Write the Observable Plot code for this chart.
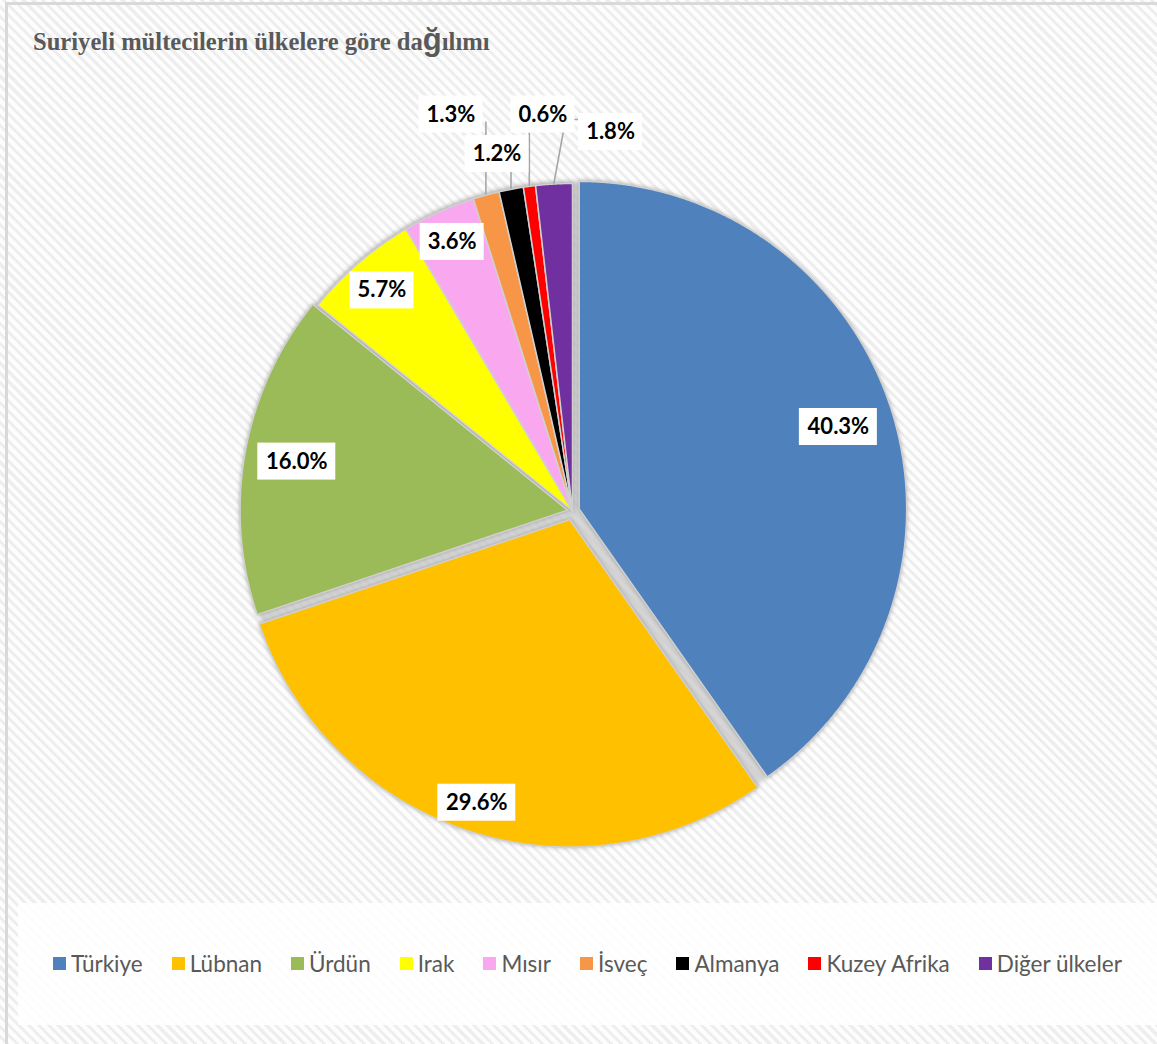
<!DOCTYPE html>
<html><head><meta charset="utf-8">
<script src="https://cdn.jsdelivr.net/npm/d3@7"></script>
<script src="https://cdn.jsdelivr.net/npm/@observablehq/plot@0.6"></script>
<style>
html,body{margin:0;padding:0;background:#fff;}
#chart{position:relative;width:1157px;height:1044px;overflow:hidden;
  background:repeating-linear-gradient(45deg,#fdfdfd 0px,#fdfdfd 4px,#eeeeee 4px,#eeeeee 7px);}
#frame{position:absolute;left:5px;top:2px;width:1200px;height:1100px;border-left:3px solid #d9d9d9;border-top:3px solid #d9d9d9;}
#title{position:absolute;left:33px;top:22px;font-family:"Liberation Serif",serif;font-weight:bold;font-size:24.6px;color:#595959;white-space:nowrap;}
#title .g{font-family:"Liberation Sans",sans-serif;font-size:31px;}
#legendbox{position:absolute;left:18px;top:903px;width:1139px;height:122px;background:rgba(255,255,255,0.85);}
#plot{position:absolute;left:0;top:0;}
#legend{position:absolute;left:53px;top:949px;height:28px;display:flex;align-items:center;font-family:Lato,sans-serif;font-size:22.5px;color:#595959;white-space:nowrap;}
#legend .item{display:flex;align-items:center;margin-right:29px;}
#legend .sw{width:13px;height:13px;margin-right:5px;display:inline-block;}
</style>
</head><body>
<div id="chart">
  <div id="frame"></div>
  <div id="title">Suriyeli mültecilerin ülkelere göre da<span class="g">ğ</span>ılımı</div>
  <div id="legendbox"></div>
  <div id="plot"></div>
  <div id="legend"></div>
</div>
<script>
// ---- data ----
const countries = ["Türkiye","Lübnan","Ürdün","Irak","Mısır","İsveç","Almanya","Kuzey Afrika","Diğer ülkeler"];
const shares = [40.3,29.6,16.0,5.7,3.6,1.3,1.2,0.6,1.8];
const sliceColors = ["#4F81BD","#FFC000","#9BBB59","#FFFF00","#F9A8F0","#F79646","#000000","#FF0000","#7030A0"];
const labelTexts = shares.map(v => v.toFixed(1) + "%");

// ---- layout / style config ----
const W = 1157, H = 1044;
const geom = {cx: 572, cy: 510.5, r: 327.5};
const explode = {"Türkiye": 7, "Lübnan": 9, "Ürdün": 5};
const insideLabel = {"Türkiye": 0.83, "Lübnan": 0.91, "Ürdün": 0.84, "Irak": 0.89, "Mısır": 0.90};
const outsideLabel = {"İsveç": [342.96, 1.266], "Almanya": [348.06, 1.114], "Kuzey Afrika": [355.74, 1.214], "Diğer ülkeler": [5.73, 1.163]};

const arcs = d3.pie().sort(null).value(d => d)(shares);
const slicePts = [];
const labels = [];
const leaders = [];
arcs.forEach((a, i) => {
  const name = countries[i];
  const mid = (a.startAngle + a.endAngle) / 2;
  const d = explode[name] || 0;
  const ox = geom.cx + d * Math.sin(mid), oy = geom.cy - d * Math.cos(mid);
  slicePts.push({name, x: ox, y: oy});
  const n = Math.max(2, Math.ceil((a.endAngle - a.startAngle) / 0.004));
  for (let k = 0; k <= n; k++) {
    const t = a.startAngle + (a.endAngle - a.startAngle) * k / n;
    slicePts.push({name, x: ox + geom.r * Math.sin(t), y: oy - geom.r * Math.cos(t)});
  }
  const text = labelTexts[i];
  const w = 14 * text.length + 8, h = 37;
  let lx, ly;
  if (insideLabel[name] != null) {
    const rr = geom.r * insideLabel[name];
    lx = ox + rr * Math.sin(mid); ly = oy - rr * Math.cos(mid);
  } else {
    const [ang, f] = outsideLabel[name];
    const t = ang * Math.PI / 180;
    lx = geom.cx + geom.r * f * Math.sin(t); ly = geom.cy - geom.r * f * Math.cos(t);
    const sx = ox + (geom.r + 1) * Math.sin(mid), sy = oy - (geom.r + 1) * Math.cos(mid);
    const left = lx - w / 2, right = lx + w / 2, top = ly - h / 2, bottom = ly + h / 2;
    leaders.push({name, x: sx, y: sy});
    if (sx < left) {
      leaders.push({name, x: left - 13, y: top + 6});
      leaders.push({name, x: left, y: top + 6});
    } else if (sx > right) {
      leaders.push({name, x: sx, y: bottom - 11});
    } else {
      leaders.push({name, x: sx, y: bottom});
    }
  }
  labels.push({name, text, x: lx, y: ly, w, h});
});

const chart = Plot.plot({
  width: W, height: H, margin: 0,
  x: {domain: [0, W], range: [0, W], axis: null},
  y: {domain: [0, H], range: [0, H], axis: null},
  color: {domain: countries, range: sliceColors},
  style: {background: "transparent", overflow: "visible"},
  marks: [
    Plot.dot([geom], {x: "cx", y: "cy", r: geom.r + 3, fill: "#c8c8c8", fillOpacity: 0.75, stroke: "none"}),
    Plot.line(slicePts, {x: "x", y: "y", z: "name", fill: "name", stroke: "#d0d0d0", strokeWidth: 1.5, curve: "linear-closed"}),
    Plot.line(leaders, {x: "x", y: "y", z: "name", stroke: "#a6a6a6", strokeWidth: 1.6}),
    Plot.rect(labels, {x1: d => d.x - d.w / 2, x2: d => d.x + d.w / 2, y1: d => d.y - d.h / 2, y2: d => d.y + d.h / 2, fill: "white"}),
    Plot.text(labels, {x: "x", y: "y", text: "text", fontFamily: "Lato", fontWeight: "bold", fontSize: 22, fill: "black"})
  ]
});
const dotG = chart.querySelector('g[aria-label="dot"]');
if (dotG) dotG.style.filter = "blur(2px)";
const sliceG = chart.querySelector('g[aria-label="line"]');
if (sliceG) sliceG.style.filter = "drop-shadow(0px 0px 2px rgba(0,0,0,0.25))";
document.getElementById("plot").appendChild(chart);

const legend = document.getElementById("legend");
countries.forEach((c, i) => {
  const it = document.createElement("div");
  it.className = "item";
  const sw = document.createElement("span");
  sw.className = "sw";
  sw.style.background = sliceColors[i];
  it.appendChild(sw);
  it.appendChild(document.createTextNode(c));
  legend.appendChild(it);
});
</script>
</body></html>
